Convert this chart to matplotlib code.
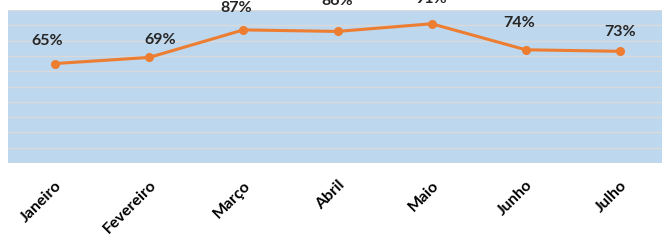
import matplotlib
matplotlib.use("Agg")
import matplotlib.pyplot as plt

months = ["Janeiro", "Fevereiro", "Março", "Abril", "Maio", "Junho", "Julho"]
values = [65, 69, 87, 86, 91, 74, 73]
labels = ["65%", "69%", "87%", "86%", "91%", "74%", "73%"]

# label nudges in pixels (dx, dy)
label_dx = [-8, 11, -7, 0, 0, -7, 0]
label_dy = [23, 17, 22, 30, 25, 27, 19]

fig = plt.figure(figsize=(6.62, 2.49), dpi=100)
ax = fig.add_axes([8 / 662, 86 / 249, 659 / 662, 153 / 249])
ax.set_facecolor("#BDD7EE")

x = list(range(len(months)))
ax.plot(x, values, color="#ED7D31", linewidth=2.2, marker="o", markersize=5.5, zorder=3)

for xi, v, lab, dx, dy in zip(x, values, labels, label_dx, label_dy):
    ax.annotate(lab, (xi, v), xytext=(dx, dy), textcoords="offset pixels",
                ha="center", va="center", fontsize=11.5, fontweight="bold",
                color="#262626", family="Lato", annotation_clip=False)

ax.set_xlim(-0.5, len(months) - 0.5)
ax.set_ylim(0, 100)
ax.set_yticks(range(0, 101, 10))
ax.yaxis.grid(True, color="#D9D9D9", linewidth=1)
ax.set_axisbelow(True)
ax.tick_params(axis="y", left=False, labelleft=False)
ax.tick_params(axis="x", length=0, pad=11)
ax.set_xticks(x)
ax.set_xticklabels(months, rotation=45, ha="right", rotation_mode="anchor",
                   fontsize=11.5, fontweight="bold", family="Lato", color="black")
for s in ax.spines.values():
    s.set_visible(False)

fig.savefig("out.png", dpi=100)
